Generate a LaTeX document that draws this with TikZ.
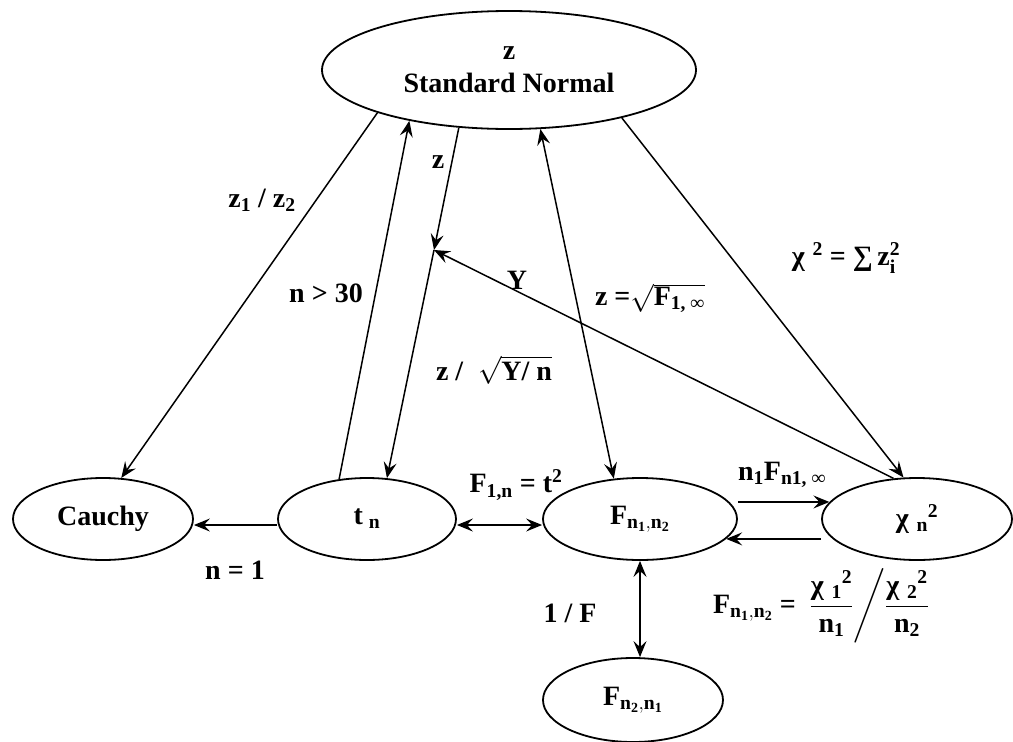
\RequirePackage{fix-cm}
\documentclass[tikz,border=0pt]{standalone}
\usepackage{fontspec}
\usepackage{amsmath}
\setmainfont{Liberation Serif}
\usetikzlibrary{shapes.geometric,arrows.meta}
\newcommand{\tb}[1]{\text{#1}}

\begin{document}
\begin{tikzpicture}[x=1pt,y=-1pt,line width=1.5pt,
  every node/.style={font=\bfseries\fontsize{28}{33}\selectfont,inner sep=1pt},
  dist/.style={draw,ellipse,line width=1.8pt,inner sep=0pt},
  rel/.style={-{Stealth[length=16pt,width=13pt,inset=6pt]}},
  mutual/.style={{Stealth[length=16pt,width=13pt,inset=6pt]}-{Stealth[length=16pt,width=13pt,inset=6pt]}}]
\useasboundingbox (0,0) rectangle (1013,742);
% distributions
\node[dist,minimum width=374pt,minimum height=118pt,align=center] (sn) at (509,70) {z\\Standard Normal};
\node[dist,minimum width=180pt,minimum height=82pt] (cauchy) at (103,519) {Cauchy};
\node[dist,minimum width=178pt,minimum height=82pt] (tn) at (367,519) {t\hspace{6pt}$_{\tb n}$};
\node[dist,minimum width=194pt,minimum height=82pt] (fnn) at (640,519) {$\tb F_{\tb n_{\tb 1},\tb n_{\tb 2}}$};
\node[dist,minimum width=190pt,minimum height=82pt] (chi) at (917,519) {$\tb{χ}\;_{\tb n}{}^{\tb 2}$};
\node[dist,minimum width=180pt,minimum height=84pt] (fnr) at (633,700) {$\tb F_{\tb n_{\tb 2},\tb n_{\tb 1}}$};
\coordinate (jn) at (434,250);
% relations
\draw[rel] (sn.198) -- (cauchy.66);
\draw[rel] (tn.125) -- (sn.207);
\draw[rel] (sn.229) -- (jn);
\draw[rel] (jn) -- (tn.64);
\draw[mutual] (sn.298) -- (fnn.123);
\draw[rel] (sn.337) -- (chi.108);
\draw[rel] (chi.120) -- (jn);
\draw[rel] ([yshift=-6pt]tn.west) -- ([yshift=-6pt]cauchy.east);
\draw[mutual] ([yshift=-6pt]tn.east) -- ([yshift=-6pt]fnn.west);
\draw[rel] (chi.169 -| fnn.east) -- (chi.169);
\draw[rel] (fnn.347 -| chi.west) -- (fnn.347);
\draw[mutual] (fnn.south) -- (fnn.south |- fnr.north);
% labels
\node (lcz) at (262,200) {$\tb z_{\tb 1}\tb{ / }\tb z_{\tb 2}$};
\node (lbig) at (326,293) {n > 30};
\node (lz) at (438,162) {z};
\node (ly) at (517,280) {Y};
\node (lsq) at (650,298) {$\tb{z =}\sqrt{\tb F_{\tb{1, ∞}}}$};
\node (lt) at (494,370) {$\tb{z / }\;\sqrt{\tb{Y/ n}}$};
\node (lchi) at (846,258) {$\tb{χ}\;^{\tb 2}\tb{ = }\tb{∑}\,\tb z_{\tb i}^{\tb 2}$};
\node (lone) at (235,570) {n = 1};
\node (lft) at (516,485) {$\tb F_{\tb{1,n}}\tb{ = }\tb t^{\tb 2}$};
\node (lninf) at (782,475) {$\tb n_{\tb 1}\tb F_{\tb{n1, ∞}}$};
\node (linv) at (570,613) {1 / F};
\node (lform) at (821,606) {$\tb F_{\tb n_{\tb 1},\tb n_{\tb 2}}\tb{ =\ \ }\dfrac{\tb{χ}\;_{\tb 1}{}^{\tb 2}}{\tb n_{\tb 1}}\Bigg/\dfrac{\tb{χ}\;_{\tb 2}{}^{\tb 2}}{\tb n_{\tb 2}}$};
\end{tikzpicture}
\end{document}
